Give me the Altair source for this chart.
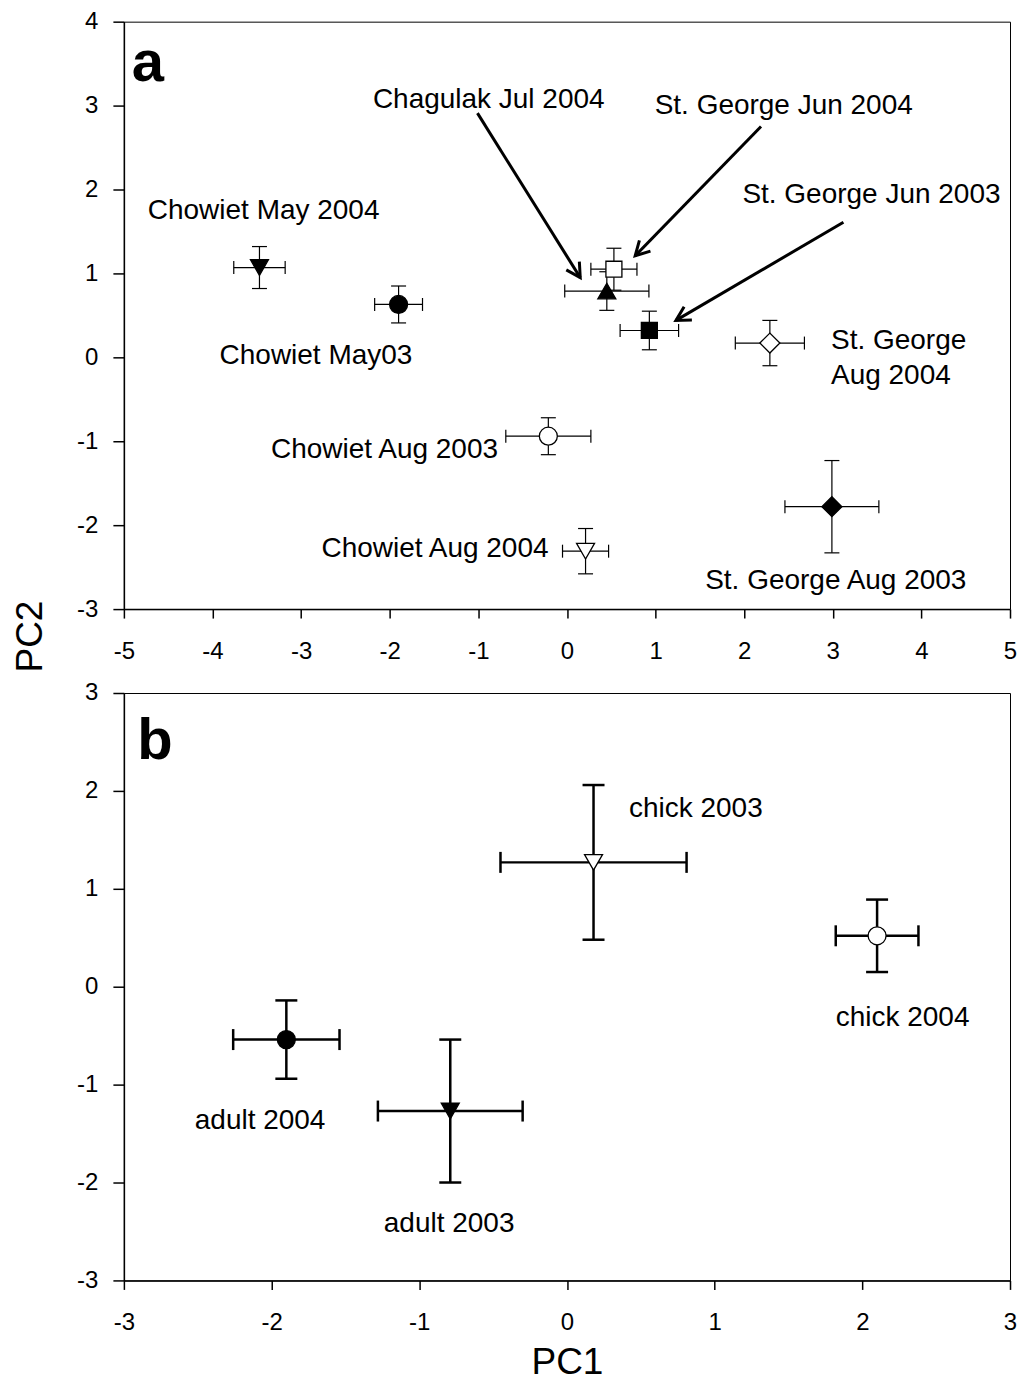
import math
import altair as alt
import pandas as pd

FONT = "Liberation Sans"
W, H = 887, 588

# ---------------- Panel a data ----------------
a_labels = ["Chowiet May 2004", "Chowiet May03", "St. George Jun 2004", "Chagulak Jul 2004",
            "St. George Jun 2003", "St. George Aug 2004", "Chowiet Aug 2003", "Chowiet Aug 2004",
            "St. George Aug 2003"]
a_pc1 = [-3.47, -1.90, 0.53, 0.45, 0.93, 2.29, -0.21, 0.21, 2.99]
a_pc2 = [1.07, 0.63, 1.05, 0.79, 0.32, 0.17, -0.94, -2.31, -1.78]
a_err1 = [0.29, 0.27, 0.26, 0.475, 0.33, 0.39, 0.48, 0.26, 0.53]
a_err2 = [0.25, 0.22, 0.25, 0.23, 0.23, 0.27, 0.22, 0.27, 0.55]
a_shape = ["triangle-down", "circle", "square", "triangle-up", "square", "diamond",
           "circle", "triangle-down", "diamond"]
a_fill = ["black", "black", "white", "black", "black", "white", "white", "white", "black"]

# annotation text (left edge, vertical centre) in data units
a_text = ["Chowiet May 2004", "Chowiet May03", "Chagulak Jul 2004", "St. George Jun 2004",
          "St. George Jun 2003", "St. George", "Aug 2004", "Chowiet Aug 2003",
          "Chowiet Aug 2004", "St. George Aug 2003"]
a_text_x = [-4.73, -3.92, -2.19, 0.99, 1.98, 2.98, 2.98, -3.34, -2.77, 1.56]
a_text_y = [1.74, 0.02, 3.07, 3.00, 1.93, 0.19, -0.22, -1.10, -2.28, -2.66]

# arrows (start -> tip) in data units
arr_x0 = [-1.01, 2.19, 3.12]
arr_y0 = [2.91, 2.75, 1.61]
arr_x1 = [0.15, 0.77, 1.23]
arr_y1 = [0.95, 1.21, 0.44]

# ---------------- Panel b data ----------------
b_labels = ["chick 2003", "chick 2004", "adult 2004", "adult 2003"]
b_pc1 = [0.18, 2.10, -1.90, -0.79]
b_pc2 = [1.27, 0.52, -0.54, -1.27]
b_err1 = [0.63, 0.28, 0.36, 0.49]
b_err2 = [0.79, 0.37, 0.40, 0.73]
b_shape = ["triangle-down", "circle", "circle", "triangle-down"]
b_fill = ["white", "white", "black", "black"]

b_text = ["chick 2003", "chick 2004", "adult 2004", "adult 2003"]
b_text_x = [0.42, 1.82, -2.52, -1.24]
b_text_y = [1.82, -0.32, -1.37, -2.42]

letters = ["a", "b"]
letter_x = [-4.91, -2.91]
letter_y = [3.29, 2.33]

SIZES = {"circle": 324, "triangle-down": 324, "triangle-up": 324, "square": 256, "diamond": 400}
ARROW = "M -0.55 1 L 0 0 L 0.55 1"


def points_df(pc1, pc2, e1, e2, shape, fill):
    return pd.DataFrame({
        "pc1": pc1, "pc2": pc2,
        "xlo": [p - e for p, e in zip(pc1, e1)], "xhi": [p + e for p, e in zip(pc1, e1)],
        "ylo": [p - e for p, e in zip(pc2, e2)], "yhi": [p + e for p, e in zip(pc2, e2)],
        "shape": shape, "fill": fill, "size": [SIZES[s] for s in shape],
    })


df_a = points_df(a_pc1, a_pc2, a_err1, a_err2, a_shape, a_fill)
df_b = points_df(b_pc1, b_pc2, b_err1, b_err2, b_shape, b_fill)
lab_a = pd.DataFrame({"x": a_text_x, "y": a_text_y, "label": a_text})
lab_b = pd.DataFrame({"x": b_text_x, "y": b_text_y, "label": b_text})


def head_angle(x0, y0, x1, y1, xspan, yspan):
    dx = (x1 - x0) * W / xspan
    dy = -(y1 - y0) * H / yspan
    return math.degrees(math.atan2(dx, -dy)) % 360


arrows = pd.DataFrame({
    "x0": arr_x0, "y0": arr_y0, "x1": arr_x1, "y1": arr_y1,
    "ang": [head_angle(a, b, c, d, 10, 7) for a, b, c, d in zip(arr_x0, arr_y0, arr_x1, arr_y1)],
})

common = dict(
    labelFont=FONT, labelFontSize=24, labelColor="black",
    domainColor="black", domainWidth=1.5, tickColor="black", tickWidth=1.5,
    grid=False, labelFlush=False, labelOverlap=False,
    labelExpr="replace(datum.label, '\u2212', '-')",
    titleFont=FONT, titleFontWeight="normal", titleColor="black", titleFontSize=37,
)

xs_a = alt.Scale(domain=[-5, 5], nice=False, zero=False)
ys_a = alt.Scale(domain=[-3, 4], nice=False, zero=False)
xs_b = alt.Scale(domain=[-3, 3], nice=False, zero=False)
ys_b = alt.Scale(domain=[-3, 3], nice=False, zero=False)

xax_a = alt.Axis(values=list(range(-5, 6)), title=None, tickSize=9, labelPadding=21, **common)
yax_a = alt.Axis(values=list(range(-3, 5)), title="PC2", tickSize=11, labelPadding=15,
                 titleX=-82, titleY=615, titleAngle=270, titleAlign="center",
                 titleBaseline="alphabetic", **common)
xax_b = alt.Axis(values=list(range(-3, 4)), title="PC1", tickSize=9, labelPadding=21,
                 titleY=93, titleBaseline="alphabetic", titleAlign="center", **common)
yax_b = alt.Axis(values=list(range(-3, 4)), title=None, tickSize=11, labelPadding=15, **common)


def make_panel(df, lab, xs, ys, xax, yax, bar_w, capx, capy, letter_idx, arrow_df=None):
    def X(f):
        return alt.X(f, type="quantitative", scale=xs, axis=xax)

    def Y(f):
        return alt.Y(f, type="quantitative", scale=ys, axis=yax)

    base = alt.Chart(df)
    hbar = base.mark_rule(color="black", strokeWidth=bar_w).encode(x=X("xlo"), x2="xhi", y=Y("pc2"))
    vbar = base.mark_rule(color="black", strokeWidth=bar_w).encode(x=X("pc1"), y=Y("ylo"), y2="yhi")
    xcap = base.transform_fold(["xlo", "xhi"], as_=["k", "v"]).mark_tick(
        orient="vertical", color="black", thickness=bar_w, size=capx, opacity=1
    ).encode(x=X("v"), y=Y("pc2"))
    ycap = base.transform_fold(["ylo", "yhi"], as_=["k", "v"]).mark_tick(
        orient="horizontal", color="black", thickness=bar_w, size=capy, opacity=1
    ).encode(x=X("pc1"), y=Y("v"))
    pts = base.mark_point(filled=True, stroke="black", strokeWidth=1.3, opacity=1).encode(
        x=X("pc1"), y=Y("pc2"),
        shape=alt.Shape("shape:N", scale=None),
        fill=alt.Fill("fill:N", scale=None),
        size=alt.Size("size:Q", scale=None),
    )
    txt = alt.Chart(lab).mark_text(
        align="left", baseline="middle", font=FONT, fontSize=28, color="black"
    ).encode(x=X("x"), y=Y("y"), text="label:N")
    let_df = pd.DataFrame({"x": [letter_x[letter_idx]], "y": [letter_y[letter_idx]],
                           "t": [letters[letter_idx]]})
    let = alt.Chart(let_df).mark_text(
        align="left", baseline="alphabetic", font=FONT, fontSize=58, fontWeight="bold", color="black"
    ).encode(x=X("x"), y=Y("y"), text="t:N")
    layers = [hbar, vbar, xcap, ycap, pts, txt, let]
    if arrow_df is not None:
        shaft = alt.Chart(arrow_df).mark_rule(color="black", strokeWidth=3).encode(
            x=X("x0"), y=Y("y0"), x2="x1", y2="y1")
        head = alt.Chart(arrow_df).mark_point(
            shape=ARROW, filled=False, stroke="black", strokeWidth=3, size=784, opacity=1,
            strokeJoin="miter"
        ).encode(x=X("x1"), y=Y("y1"), angle=alt.Angle("ang:Q", scale=None))
        layers += [shaft, head]
    return alt.layer(*layers).properties(width=W, height=H)


panel_a = make_panel(df_a, lab_a, xs_a, ys_a, xax_a, yax_a, 1.2, 13, 15, 0, arrows)
panel_b = make_panel(df_b, lab_b, xs_b, ys_b, xax_b, yax_b, 2.5, 21, 22, 1)

chart = alt.vconcat(panel_a, panel_b, spacing=84, bounds="flush").properties(
    padding={"left": 3, "top": 0, "right": 0, "bottom": 0}
).configure_view(stroke="black", strokeWidth=1)

chart.save("out.html", embed_options={"renderer": "svg", "actions": False})
